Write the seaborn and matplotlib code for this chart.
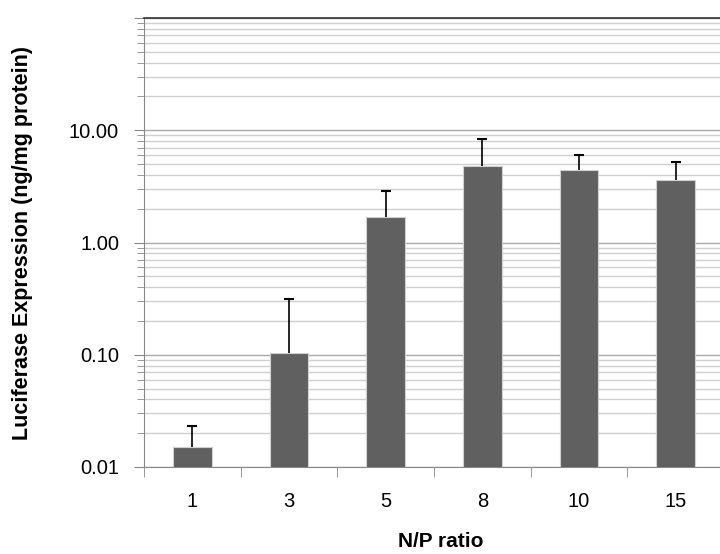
import numpy as np
import seaborn as sns
import matplotlib.pyplot as plt
from matplotlib.ticker import LogLocator, FixedLocator, NullFormatter

# Data
np_ratio = ['1', '3', '5', '8', '10', '15']
expression = [0.0150, 0.103, 1.70, 4.83, 4.39, 3.63]
err_top = [0.0231, 0.311, 2.90, 8.28, 5.97, 5.17]

sns.set_style('white')
plt.rcParams['font.family'] = ['Liberation Sans', 'DejaVu Sans']
plt.rcParams['text.color'] = 'black'
plt.rcParams['axes.labelcolor'] = 'black'

fig = plt.figure(figsize=(7.2, 5.54), dpi=100)
ax = fig.add_axes([144 / 720, 87 / 554, 580 / 720, 449 / 554])

sns.barplot(x=np_ratio, y=expression, color='#606060', width=0.4,
            saturation=1, edgecolor='#d0d0d0', linewidth=0.8, ax=ax, zorder=3)

# upper-only error bars
xpos = np.arange(len(np_ratio))
ax.vlines(xpos, expression, err_top, color='black', linewidth=1.2, zorder=4)
ax.plot(xpos, err_top, linestyle='none', marker='_', markersize=7,
        markeredgewidth=1.5, color='black', zorder=4)

ax.set_yscale('log')
ax.set_ylim(0.01, 100)
ax.set_xlim(-0.5, 5.5)

ax.yaxis.set_minor_locator(LogLocator(base=10, subs=np.arange(2, 10), numticks=20))
ax.yaxis.set_minor_formatter(NullFormatter())
ax.set_yticks([0.01, 0.1, 1, 10, 100])
ax.set_yticklabels(['0.01', '0.10', '1.00', '10.00', ''])

ax.grid(True, which='major', axis='y', color='#a8a8a8', linewidth=1.0, zorder=0)
ax.grid(True, which='minor', axis='y', color='#cfcfcf', linewidth=1.0, zorder=0)
ax.set_axisbelow(True)

ax.xaxis.set_minor_locator(FixedLocator(np.arange(-0.5, 6.0, 1.0)))
ax.tick_params(axis='x', which='major', length=0, pad=18, labelsize=14.5, labelcolor='black')
ax.tick_params(axis='x', which='minor', length=7, color='#888888', direction='out', bottom=True)
ax.tick_params(axis='y', which='major', length=7, color='#888888', direction='out', left=True,
               labelsize=14.5, pad=11, labelcolor='black')
ax.tick_params(axis='y', which='minor', length=5, color='#888888', direction='out', left=True)

for side in ['left', 'bottom']:
    ax.spines[side].set_color('#888888')
ax.spines['top'].set_color('#333333')
ax.spines['top'].set_linewidth(1.2)
ax.spines['right'].set_visible(False)

ax.set_xlabel('N/P ratio', fontsize=15, fontweight='bold')
ax.xaxis.set_label_coords(0.512, -0.145)
ax.set_ylabel('Luciferase Expression (ng/mg protein)', fontsize=15.5, fontweight='bold', labelpad=26)

fig.savefig('out.png', dpi=100)
